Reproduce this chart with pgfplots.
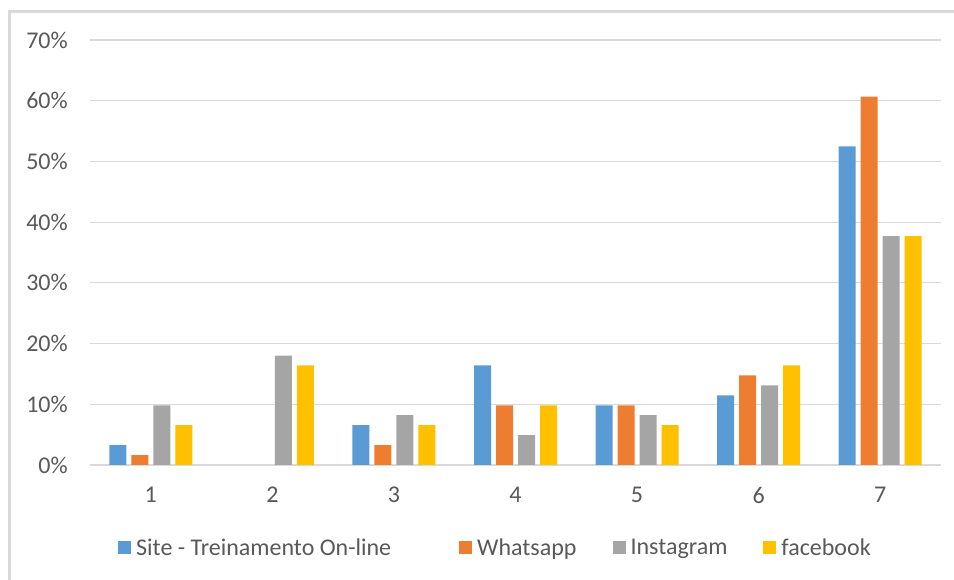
\documentclass[border=0pt]{standalone}
\usepackage{fontspec}
\setmainfont{Carlito}
\usepackage{pgfplots}
\pgfplotsset{compat=1.18}

\definecolor{sblue}{HTML}{5B9BD5}
\definecolor{sorange}{HTML}{ED7D31}
\definecolor{sgray}{HTML}{A5A5A5}
\definecolor{syellow}{HTML}{FFC000}
\definecolor{gridgray}{HTML}{D9D9D9}
\definecolor{textgray}{HTML}{595959}

\newcommand{\chartfont}{\fontsize{24}{28}\selectfont}

\begin{document}
\begin{tikzpicture}
\useasboundingbox (0,0) rectangle (954pt,580pt);
\fill[white] (0,0) rectangle (954pt,580pt);
% chart area frame (left and top edges)
\draw[gridgray, line width=2.5pt] (9.5pt,-2pt) -- (9.5pt,568.7pt) -- (956pt,568.7pt);
\begin{axis}[
  at={(90pt,115pt)}, anchor=south west,
  width=851pt, height=425pt, scale only axis,
  ybar=5pt, bar width=17pt,
  xmin=0.5, xmax=7.5, ymin=0, ymax=70,
  xtick={1,2,3,4,5,6,7},
  xticklabels={1,2,3,4,5,6,7},
  ytick={0,10,20,30,40,50,60,70},
  yticklabels={0\%,10\%,20\%,30\%,40\%,50\%,60\%,70\%},
  axis lines*=left,
  y axis line style={draw=none},
  x axis line style={draw=gridgray, line width=1.2pt},
  major tick length=0pt,
  ymajorgrids, grid style={gridgray, line width=1.2pt},
  tick label style={font=\chartfont, text=textgray},
  yticklabel style={anchor=east, inner sep=0pt, xshift=-22pt},
  xticklabel style={anchor=north, inner sep=0pt, yshift=-22pt},
  legend columns=4,
  legend cell align=left,
  legend style={at={(0.0329,-0.1953)}, anchor=west, draw=none, fill=none,
    inner sep=0pt, font=\chartfont, text=textgray,
    nodes={inner sep=0pt},
    /tikz/every odd column/.append style={column sep=5pt},
    /tikz/every even column/.append style={column sep=36pt}},
  every axis plot post/.append style={
    legend image code/.code={\fill[##1] (0pt,-6.5pt) rectangle (13pt,6.5pt);}},
]
% category 2 has 0% for the first two series, so no bar is drawn there
\addplot[fill=sblue, draw=none] coordinates
  {(1,3.28) (3,6.56) (4,16.39) (5,9.84) (6,11.48) (7,52.46)};
\addplot[fill=sorange, draw=none] coordinates
  {(1,1.64) (3,3.28) (4,9.84) (5,9.84) (6,14.75) (7,60.66)};
\addplot[fill=sgray, draw=none] coordinates
  {(1,9.84) (2,18.03) (3,8.20) (4,4.92) (5,8.20) (6,13.11) (7,37.70)};
\addplot[fill=syellow, draw=none] coordinates
  {(1,6.56) (2,16.39) (3,6.56) (4,9.84) (5,6.56) (6,16.39) (7,37.70)};
\addlegendentry{\makebox[287pt][l]{Site - Treinamento On-line}}
\addlegendentry{Whatsapp}
\addlegendentry{Instagram}
\addlegendentry{facebook}
\end{axis}
\end{tikzpicture}
\end{document}
